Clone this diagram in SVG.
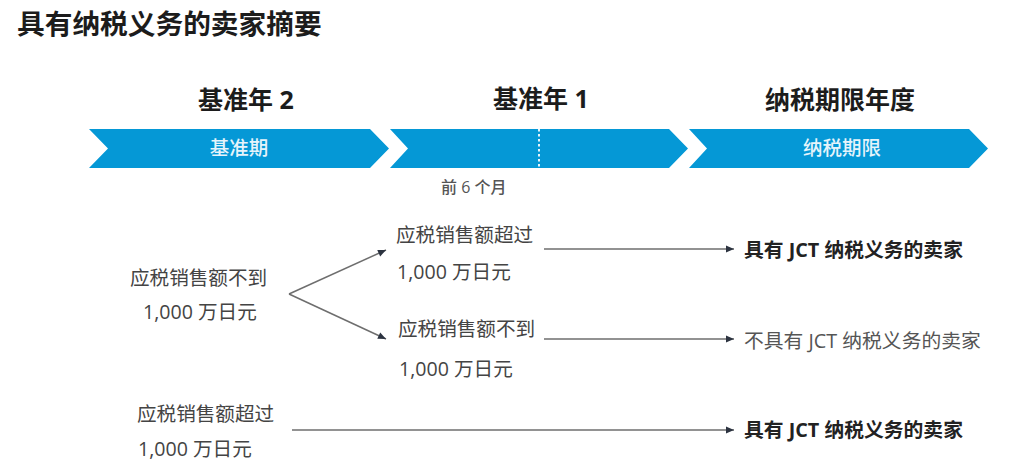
<svg xmlns="http://www.w3.org/2000/svg" width="1024" height="460" viewBox="0 0 1024 460">
<style>
text{font-family:"Open Sans","Noto Sans CJK SC","Noto Sans",sans-serif}
.title{font-size:27.7px;font-weight:700;fill:#1c1c1c}
.head{font-size:25px;font-weight:700;fill:#1c1c1c;text-anchor:middle}
.bar{fill:#0598d6}
.barlabel{font-size:19.500px;font-weight:500;fill:#e6f4fb;text-anchor:middle}
.body{font-size:19.600px;fill:#444}
.res{font-size:19.800px;font-weight:700;fill:#222}
.note{font-size:16px;font-weight:500;fill:#555}
.conn{fill:none;stroke:#6e6e6e;stroke-width:1.5;marker-end:url(#arrow)}
</style>
<defs>
<marker id="arrow" markerUnits="userSpaceOnUse" markerWidth="10" markerHeight="10" refX="9" refY="5" orient="auto"><path d="M1 1.5L9 5L1 8.5Z" fill="#2c3340"/></marker>
</defs>
<rect width="1024" height="460" fill="#fff"/>
<text class="title" x="17" y="34">具有纳税义务的卖家摘要</text>
<g id="base-year-2">
<text class="head" x="246" y="109">基准年 2</text>
<polygon class="bar" points="89,129 370,129 389,148.500 370,168 89,168 108,148.500"/>
<text class="barlabel" x="239" y="155">基准期</text>
</g>
<g id="base-year-1">
<text class="head" x="541" y="108">基准年 1</text>
<polygon class="bar" points="390,129 669,129 688,148.500 669,168 390,168 408,148.500"/>
<line x1="539" y1="129" x2="539" y2="168" stroke="#e6f4fb" stroke-width="2" stroke-dasharray="2.500 2.500"/>
<text class="note" x="441" y="193">前 6 个月</text>
</g>
<g id="tax-year">
<text class="head" x="840" y="109">纳税期限年度</text>
<polygon class="bar" points="689,129 969,129 988,148.500 969,168 689,168 707,148.500"/>
<text class="barlabel" x="842" y="155">纳税期限</text>
</g>
<g id="below-left">
<text class="body" x="130" y="285">应税销售额不到</text>
<text class="body" x="143" y="319">1,000 万日元</text>
</g>
<g id="above-mid">
<text class="body" x="396" y="242">应税销售额超过</text>
<text class="body" x="397" y="279">1,000 万日元</text>
</g>
<g id="below-mid">
<text class="body" x="398" y="336">应税销售额不到</text>
<text class="body" x="399" y="376">1,000 万日元</text>
</g>
<g id="above-left">
<text class="body" x="137" y="421">应税销售额超过</text>
<text class="body" x="138" y="456">1,000 万日元</text>
</g>
<g id="result-1"><text class="res" x="744" y="257">具有 JCT 纳税义务的卖家</text></g>
<g id="result-2"><text class="res" x="744" y="348" style="font-weight:400;fill:#555">不具有 JCT 纳税义务的卖家</text></g>
<g id="result-3"><text class="res" x="744" y="437">具有 JCT 纳税义务的卖家</text></g>
<g id="connectors">
<path class="conn" d="M289 294L386 250"/>
<path class="conn" d="M289 294L386 339"/>
<path class="conn" d="M544 249L734 249"/>
<path class="conn" d="M544 339L734 339"/>
<path class="conn" d="M292 430L734 430"/>
</g>
</svg>
